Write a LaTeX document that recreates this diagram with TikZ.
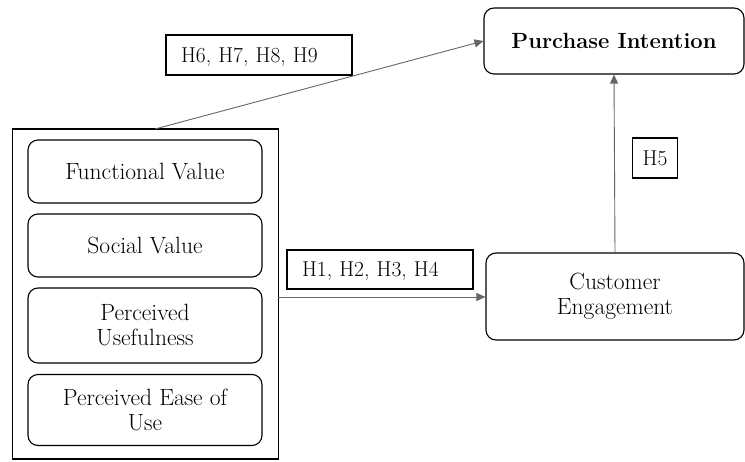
\documentclass[tikz,border=0pt]{standalone}
\usetikzlibrary{arrows.meta}
\tikzset{
    construct/.style={draw, rounded corners=10pt, line width=1.1pt, align=center, inner sep=2pt},
    hypbox/.style={draw, line width=1.1pt, align=left, inner sep=0pt, text depth=0pt, font=\fontsize{21.5}{25}\selectfont},
    link/.style={draw, gray!80!black, line width=0.9pt, -{Triangle[length=9pt,width=8pt]}}
}
\begin{document}
\begin{tikzpicture}[x=1pt,y=-1pt,font=\fontsize{23.5}{25}\selectfont]
        \useasboundingbox (0,0) rectangle (745,461);

        % independent variables
        \node[draw, line width=1.1pt, minimum width=266pt, minimum height=330pt] (group) at (145.5,294) {};
        \node[construct, minimum width=234pt, minimum height=63pt] (fv) at (145,171.5) {Functional Value};
        \node[construct, minimum width=234pt, minimum height=63pt] (sv) at (145,245.5) {Social Value};
        \node[construct, minimum width=234pt, minimum height=75pt] (pu) at (145,325.5) {Perceived\\Usefulness};
        \node[construct, minimum width=234pt, minimum height=71pt] (peou) at (145,410) {Perceived Ease of\\Use};

        % outcomes
        \node[construct, font=\fontsize{22}{25}\selectfont\bfseries, minimum width=260pt, minimum height=66pt] (pi) at (614,41) {Purchase Intention};
        \node[construct, minimum width=258pt, minimum height=87pt] (ce) at (615,296.5) {Customer\\Engagement};

        % hypotheses
        \node[hypbox, minimum width=186pt, minimum height=40pt, text width=156pt, inner xsep=15pt] (h69) at (259,55) {H6, H7, H8, H9};
        \node[hypbox, minimum width=186pt, minimum height=39pt, text width=156pt, inner xsep=15pt] (h14) at (380,269.5) {H1, H2, H3, H4};
        \node[hypbox, minimum width=45pt, minimum height=40pt, align=center] (h5) at (655,158) {H5};

        \coordinate (gtop) at (155,129);
        \coordinate (gright) at (278,297);

        \path[link] (gtop) -- (pi.west);
        \path[link] (gright) -- (gright -| ce.west);
        \path[link] (ce.north) -- (pi.south);
    \end{tikzpicture}
\end{document}
